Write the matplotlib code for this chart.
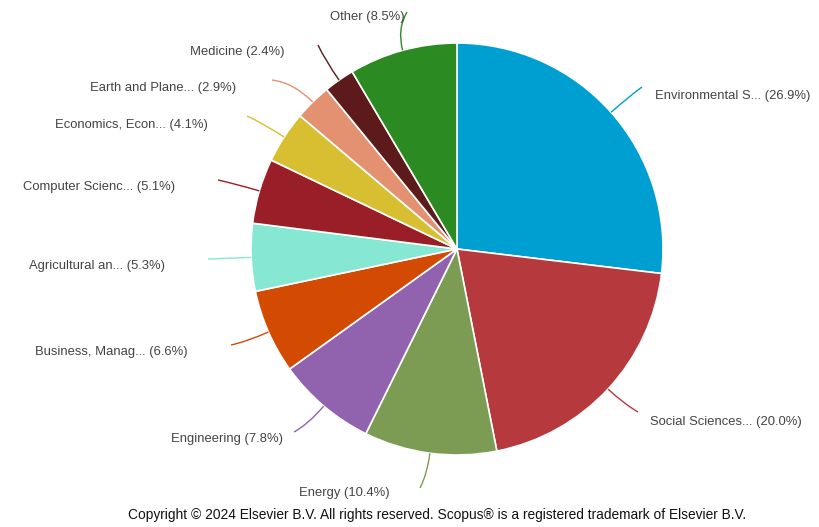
import numpy as np
import matplotlib.pyplot as plt
from matplotlib.path import Path
from matplotlib.patches import PathPatch

plt.rcParams['font.family'] = ['Liberation Sans', 'DejaVu Sans']

# documents by subject area (share, %)
subjects = ['Environmental S...', 'Social Sciences...', 'Energy', 'Engineering',
            'Business, Manag...', 'Agricultural an...', 'Computer Scienc...',
            'Economics, Econ...', 'Earth and Plane...', 'Medicine', 'Other']
shares = [26.9, 20.0, 10.4, 7.8, 6.6, 5.3, 5.1, 4.1, 2.9, 2.4, 8.5]
colors = ['#009fd1', '#b6393e', '#7c9c54', '#9162ad', '#d34a03', '#86e8d3',
          '#9a1e27', '#d8bf32', '#e39171', '#5c1a1b', '#2c8a23']

# label placement in pixels (x, y from top), alignment and connector end point
label_pos = [(655, 96, 'left'), (650, 422, 'left'), (344, 493, 'center'),
             (283, 439, 'right'), (188, 352, 'right'), (165, 266, 'right'),
             (175, 187, 'right'), (208, 125, 'right'), (236, 88, 'right'),
             (285, 52, 'right'), (405, 17, 'right')]
conn_end = [(642, 87), (638, 412), (420, 488), (294, 432), (231, 345),
            (208, 259), (218, 180), (247, 116), (272, 80), (318, 45), (407, 12)]

W, H = 820, 527
cx, cy, r = 457, H - 249, 206

fig = plt.figure(figsize=(W / 100, H / 100), dpi=100)
ax = fig.add_axes([0, 0, 1, 1])

wedges, _ = ax.pie(shares, colors=colors, startangle=90, counterclock=False,
                   center=(cx, cy), radius=r, frame=True,
                   wedgeprops=dict(edgecolor='white', linewidth=1.2))
ax.set_xlim(0, W)
ax.set_ylim(0, H)
ax.set_aspect('equal')
ax.axis('off')

for w, name, val, col, (lx, ly, ha), (ex, ey) in zip(
        wedges, subjects, shares, colors, label_pos, conn_end):
    mid = np.deg2rad((w.theta1 + w.theta2) / 2)
    sx, sy = cx + r * np.cos(mid), cy + r * np.sin(mid)
    ey = H - ey
    d = np.hypot(ex - cx, ey - cy)
    rc = r + (d - r) * 0.6
    qx, qy = cx + rc * np.cos(mid), cy + rc * np.sin(mid)
    path = Path([(sx, sy), (qx, qy), (ex, ey)],
                [Path.MOVETO, Path.CURVE3, Path.CURVE3])
    ax.add_patch(PathPatch(path, facecolor='none', edgecolor=col, lw=1.0))
    ax.text(lx, H - ly, f'{name} ({val:.1f}%)', ha=ha, va='center',
            fontsize=9.4, color='#444444')

ax.text(437.5, H - 515, 'Copyright © 2024 Elsevier B.V. All rights reserved. '
        'Scopus® is a registered trademark of Elsevier B.V.',
        ha='center', va='center', fontsize=9.9, color='#111111')

fig.savefig('out.png', dpi=100)
